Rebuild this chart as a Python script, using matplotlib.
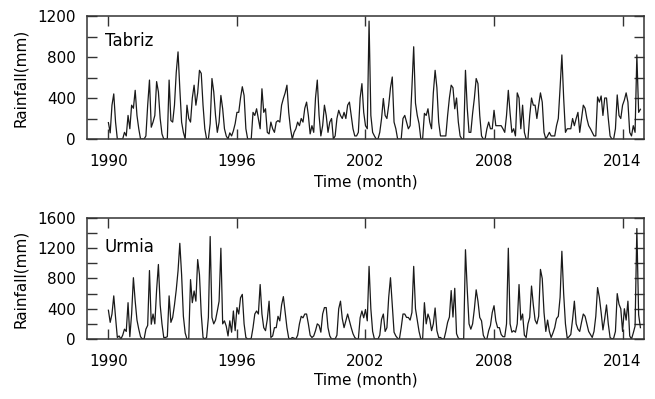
import numpy as np
import matplotlib
matplotlib.use('Agg')
import matplotlib.pyplot as plt
from matplotlib.ticker import MultipleLocator

# monthly rainfall (mm), Jan 1990 .. Nov 2014, one row per year
tabriz = [
    160, 60, 330, 440, 165, 0, 0, 0, 0, 65, 30, 230,
    100, 330, 300, 475, 230, 100, 0, 0, 0, 30, 330, 575,
    115, 165, 230, 560, 460, 200, 50, 0, 0, 0, 575, 180,
    165, 330, 650, 850, 490, 165, 65, 0, 330, 200, 165, 400,
    525, 330, 450, 670, 640, 330, 100, 0, 0, 150, 590, 460,
    230, 65, 165, 425, 295, 100, 30, 0, 60, 30, 80, 150,
    260, 260, 400, 510, 425, 100, 0, 0, 0, 260, 230, 295,
    200, 100, 490, 260, 295, 65, 50, 165, 100, 65, 165, 180,
    165, 330, 395, 450, 525, 260, 100, 0, 65, 100, 165, 130,
    200, 165, 300, 360, 230, 50, 130, 65, 400, 575, 230, 30,
    130, 330, 230, 65, 165, 200, 0, 30, 200, 280, 230, 200,
    260, 200, 330, 360, 230, 100, 30, 30, 65, 400, 540, 260,
    130, 100, 1150, 230, 65, 30, 0, 0, 65, 200, 395, 230,
    200, 330, 500, 605, 165, 100, 0, 0, 0, 200, 230, 165,
    100, 130, 500, 900, 350, 230, 150, 0, 0, 250, 230, 295,
    165, 100, 450, 670, 500, 165, 30, 30, 30, 30, 230, 400,
    525, 500, 295, 400, 165, 30, 0, 0, 670, 300, 65, 65,
    250, 400, 590, 540, 230, 30, 0, 0, 100, 165, 100, 100,
    280, 130, 130, 130, 130, 100, 65, 230, 475, 250, 65, 100,
    30, 450, 400, 100, 330, 65, 0, 0, 230, 400, 330, 330,
    200, 330, 450, 360, 65, 0, 30, 65, 30, 30, 30, 130,
    200, 500, 820, 400, 65, 100, 100, 100, 200, 130, 200, 260,
    65, 200, 330, 300, 200, 130, 100, 65, 30, 30, 410, 360,
    420, 230, 400, 400, 200, 30, 0, 0, 100, 430, 230, 200,
    330, 380, 450, 360, 65, 30, 130, 65, 820, 260, 290,
]

urmia = [
    380, 220, 330, 570, 285, 20, 40, 0, 50, 130, 100, 480,
    30, 330, 810, 500, 250, 130, 30, 0, 0, 130, 180, 905,
    195, 330, 200, 650, 985, 450, 200, 20, 20, 30, 570, 220,
    285, 450, 650, 900, 1265, 850, 300, 80, 0, 0, 785, 480,
    635, 500, 1050, 850, 330, 20, 0, 20, 285, 1355, 285, 200,
    250, 370, 500, 1200, 200, 240, 170, 40, 240, 90, 370, 110,
    415, 330, 545, 590, 200, 20, 0, 0, 10, 150, 330, 370,
    330, 720, 330, 150, 110, 260, 500, 20, 40, 150, 150, 300,
    240, 450, 560, 350, 150, 10, 0, 20, 10, 0, 50, 200,
    300, 280, 330, 330, 200, 50, 20, 40, 110, 200, 180, 90,
    330, 415, 415, 150, 40, 0, 0, 0, 50, 400, 500, 270,
    150, 240, 330, 240, 150, 70, 20, 0, 0, 280, 370, 280,
    390, 240, 960, 400, 100, 0, 0, 0, 50, 260, 330, 100,
    150, 550, 810, 450, 90, 40, 10, 0, 150, 330, 330, 285,
    285, 250, 350, 960, 400, 250, 100, 0, 0, 480, 200, 330,
    260, 110, 200, 410, 110, 20, 20, 0, 0, 100, 220, 290,
    640, 290, 670, 70, 10, 0, 0, 0, 1180, 650, 200, 130,
    200, 400, 650, 500, 285, 240, 50, 0, 0, 110, 180, 350,
    440, 240, 150, 150, 60, 30, 30, 200, 1200, 200, 90, 110,
    90, 200, 720, 250, 330, 50, 20, 200, 285, 700, 450, 250,
    200, 300, 920, 800, 350, 100, 250, 100, 20, 80, 150, 270,
    300, 550, 1160, 600, 200, 10, 30, 60, 260, 500, 200, 130,
    100, 220, 330, 300, 200, 100, 60, 20, 100, 300, 680, 550,
    350, 120, 270, 450, 200, 20, 0, 10, 100, 600, 460, 400,
    100, 400, 250, 500, 40, 0, 80, 170, 1460, 320, 150,
]

year_ticks = [1990, 1996, 2002, 2008, 2014]
stations = ['Tabriz', 'Urmia']
ymax = [1200, 1600]

plt.rcParams['font.family'] = 'DejaVu Sans'
plt.rcParams['font.size'] = 11

fig = plt.figure(figsize=(6.55, 3.99), dpi=100)
ax1 = fig.add_axes([0.1328, 0.6516, 0.8504, 0.3083])
ax2 = fig.add_axes([0.1328, 0.1504, 0.8504, 0.3033])

for ax, data, name, top, lpad, ty in zip([ax1, ax2], [tabriz, urmia], stations,
                                         ymax, [4, 2], [0.80, 0.76]):
    t = 1990 + np.arange(len(data)) / 12.0
    ax.plot(t, data, color='#1a1a1a', lw=0.9)
    ax.set_xlim(1989, 2015)
    ax.set_ylim(0, top)
    ax.set_xticks(year_ticks)
    ax.yaxis.set_major_locator(MultipleLocator(400))
    ax.yaxis.set_minor_locator(MultipleLocator(200))
    ax.tick_params(which='both', direction='in', top=True, right=True,
                   length=7, width=1.0, color='#333333', labelsize=11)
    ax.tick_params(axis='x', pad=11)
    ax.tick_params(axis='y', pad=8)
    for s in ax.spines.values():
        s.set_linewidth(1.1)
        s.set_color('#333333')
    ax.set_xlabel('Time (month)', fontsize=11, labelpad=lpad)
    ax.set_ylabel('Rainfall(mm)', fontsize=11, labelpad=7)
    ax.text(0.032, ty, name, transform=ax.transAxes,
            fontsize=12, va='center', ha='left')

fig.savefig('out.png', dpi=100)
